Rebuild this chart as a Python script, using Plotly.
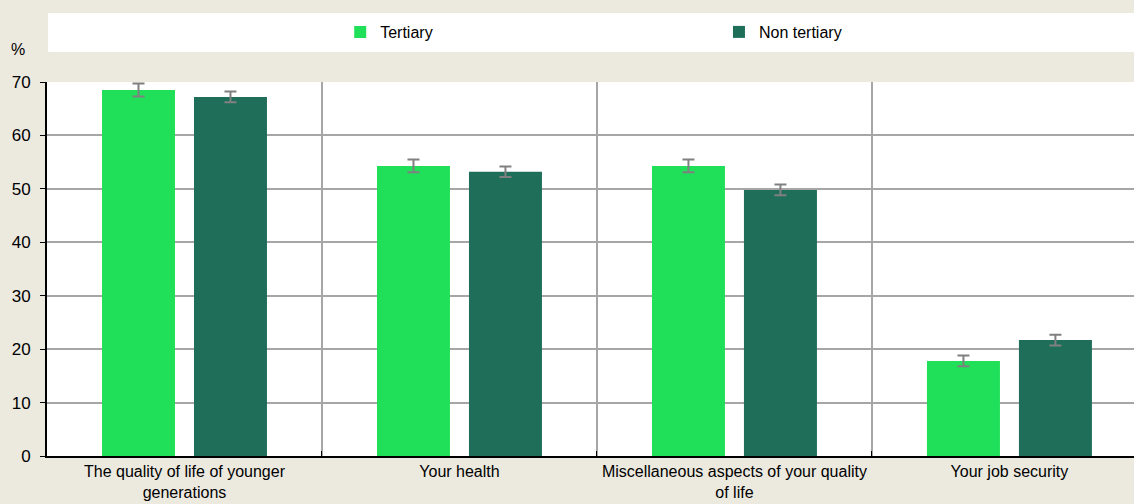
import plotly.graph_objects as go

categories = [
    "The quality of life of younger<br>generations",
    "Your health",
    "Miscellaneous aspects of your quality<br>of life",
    "Your job security",
]
tertiary = [68.5, 54.3, 54.3, 17.8]
tertiary_err = [1.2, 1.2, 1.2, 1.0]
non_tertiary = [67.2, 53.2, 49.8, 21.7]
non_tertiary_err = [1.0, 1.0, 1.0, 1.0]

BG = "#ECE9DF"
FONT = "Liberation Sans Narrow, Arial Narrow, Liberation Sans, Arial"

fig = go.Figure()
fig.add_trace(go.Bar(
    name="Tertiary", x=categories, y=tertiary,
    marker=dict(color="#20E05A", line=dict(width=0)),
    error_y=dict(type="data", array=tertiary_err, color="#808080", thickness=2, width=6),
    legend="legend",
))
fig.add_trace(go.Bar(
    name="Non tertiary", x=categories, y=non_tertiary,
    marker=dict(color="#1F6E5A", line=dict(width=0)),
    error_y=dict(type="data", array=non_tertiary_err, color="#808080", thickness=2, width=6),
    legend="legend2",
))

fig.update_layout(
    width=1134, height=504,
    paper_bgcolor=BG, plot_bgcolor="white",
    margin=dict(l=47, r=0, t=82, b=48, autoexpand=False),
    barmode="group", bargap=0.331, bargroupgap=0.2065,
    font=dict(family=FONT, size=16, color="#000000"),
    showlegend=True,
    legend=dict(orientation="h", xref="container", yref="container",
                x=0.3, y=0.9365, xanchor="left", yanchor="middle",
                bgcolor="rgba(0,0,0,0)", font=dict(size=16)),
    legend2=dict(orientation="h", xref="container", yref="container",
                 x=0.634, y=0.9365, xanchor="left", yanchor="middle",
                 bgcolor="rgba(0,0,0,0)", font=dict(size=16)),
    shapes=[dict(type="rect", xref="paper", yref="paper", x0=0.001, x1=1.0,
                 y0=1.080, y1=1.1845, fillcolor="white", line=dict(width=0), layer="below")],
    annotations=[dict(text="%", xref="paper", yref="paper", x=-0.0267, y=1.0856,
                      xanchor="center", yanchor="middle", showarrow=False,
                      font=dict(size=16))],
)

fig.update_xaxes(
    type="category", range=[-0.5, 3.453], automargin=False,
    tickson="boundaries", showgrid=True, gridcolor="#A6A6A6", gridwidth=2,
    ticks="inside", ticklen=5, tickcolor="#000000",
    showline=True, linecolor="#000000", linewidth=2,
    tickfont=dict(size=16), zeroline=False,
)
fig.update_yaxes(
    range=[0, 70], dtick=10, tick0=0, automargin=False,
    showgrid=True, gridcolor="#A6A6A6", gridwidth=2,
    ticks="outside", ticklen=5, tickcolor="#000000", ticklabelstandoff=6,
    showline=True, linecolor="#000000", linewidth=2,
    tickfont=dict(size=17), zeroline=False,
)

fig.write_html(
    "out.html",
    config={"displayModeBar": False},
    post_script="document.body.style.margin='0';document.body.style.overflow='hidden';",
)
